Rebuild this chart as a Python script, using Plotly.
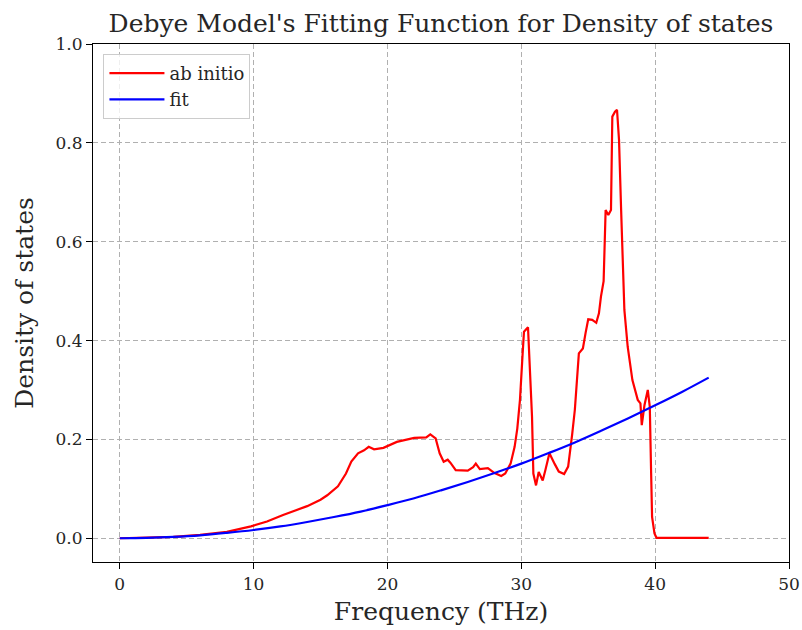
import plotly.graph_objects as go

# ab initio phonon density of states
freq_ab = [0, 2, 4, 6, 8, 9.8, 11, 12.2, 13, 14, 15, 15.5, 16.3, 16.9, 17.3, 17.8,
           18.25, 18.6, 19.0, 19.7, 20.7, 22.0, 22.9, 23.2, 23.6, 23.9, 24.2, 24.5,
           24.7, 25.1, 26.0, 26.4, 26.6, 26.9, 27.5, 28.0, 28.5, 28.8, 29.2, 29.5,
           29.7, 29.9, 30.1, 30.2, 30.5, 30.6, 30.8, 30.9, 31.1, 31.3, 31.6, 31.8,
           32.1, 32.5, 32.8, 33.2, 33.5, 33.8, 34.0, 34.3, 34.6, 34.8, 35.0, 35.3,
           35.6, 35.8, 35.95, 36.15, 36.3, 36.5, 36.7, 36.8, 37.0, 37.15, 37.3,
           37.45, 37.6, 37.7, 37.95, 38.3, 38.7, 38.9, 39.0, 39.2, 39.45, 39.6,
           39.7, 39.77, 39.95, 40.1, 41, 42, 43, 44]
dos_ab = [0.0, 0.001, 0.003, 0.007, 0.013, 0.024, 0.034, 0.047, 0.055, 0.065, 0.078,
          0.087, 0.105, 0.131, 0.155, 0.172, 0.178, 0.185, 0.18, 0.183, 0.195, 0.203,
          0.204, 0.21, 0.202, 0.172, 0.155, 0.159, 0.153, 0.138, 0.137, 0.144, 0.151,
          0.14, 0.142, 0.132, 0.126, 0.131, 0.151, 0.185, 0.222, 0.28, 0.374, 0.418,
          0.427, 0.375, 0.246, 0.131, 0.107, 0.134, 0.117, 0.138, 0.172, 0.15, 0.135,
          0.13, 0.145, 0.21, 0.26, 0.374, 0.384, 0.415, 0.443, 0.442, 0.436, 0.455,
          0.489, 0.52, 0.664, 0.654, 0.664, 0.853, 0.863, 0.867, 0.806, 0.671, 0.51,
          0.462, 0.387, 0.32, 0.28, 0.273, 0.229, 0.269, 0.3, 0.266, 0.131, 0.043,
          0.01, 0.001, 0.001, 0.001, 0.001, 0.001]

# Debye fit sampled on a regular grid
freq_fit = [0, 2, 4, 6, 8, 10, 12, 14, 16, 18, 20, 22, 24, 26, 28, 30, 32, 34, 36,
            38, 40, 42, 44]
dos_fit = [0.0, 0.0007, 0.0027, 0.006, 0.011, 0.0168, 0.024, 0.033, 0.043, 0.054,
           0.067, 0.081, 0.097, 0.114, 0.132, 0.151, 0.172, 0.194, 0.218, 0.243,
           0.269, 0.296, 0.325]

x_ticks = [0, 10, 20, 30, 40, 50]
y_ticks = [0.0, 0.2, 0.4, 0.6, 0.8, 1.0]

FONT = "DejaVu Serif"
TEXT = "#262626"

fig = go.Figure()
fig.add_trace(go.Scatter(x=freq_ab, y=dos_ab, mode="lines", name="ab initio",
                         line=dict(color="#ff0000", width=2.2)))
fig.add_trace(go.Scatter(x=freq_fit, y=dos_fit, mode="lines", name="fit",
                         line=dict(color="#0000ff", width=2.2, shape="spline")))

axis_common = dict(
    showline=True, linecolor="black", linewidth=1.2, mirror=True,
    ticks="outside", ticklen=6, tickwidth=1.2, tickcolor="black",
    showgrid=True, gridcolor="#b0b0b0", gridwidth=1, griddash="5px,3px",
    zeroline=False, automargin=False,
    tickfont=dict(family=FONT, size=17, color=TEXT),
)

fig.update_xaxes(range=[-2, 50], tickvals=x_ticks,
                 ticktext=[str(v) for v in x_ticks],
                 title=dict(text="Frequency (THz)", font=dict(family=FONT, size=25, color=TEXT),
                            standoff=9),
                 **axis_common)
fig.update_yaxes(range=[-0.048, 1.0], tickvals=y_ticks,
                 ticktext=[f"{v:.1f}" for v in y_ticks],
                 title=dict(text="Density of states", font=dict(family=FONT, size=25, color=TEXT),
                            standoff=14),
                 **axis_common)

fig.update_layout(
    width=802, height=630,
    margin=dict(l=93, r=13, t=44, b=68, autoexpand=False),
    paper_bgcolor="white", plot_bgcolor="white",
    title=dict(text="Debye Model's Fitting Function for Density of states",
               x=(93 + 789) / 2 / 802, xanchor="center", y=0.963, yanchor="middle",
               font=dict(family=FONT, size=25, color=TEXT)),
    legend=dict(x=0.015, y=0.981, xanchor="left", yanchor="top",
                bgcolor="rgba(255,255,255,0.8)", bordercolor="#cccccc", borderwidth=1,
                itemwidth=55, tracegroupgap=0,
                font=dict(family=FONT, size=18, color=TEXT)),
    showlegend=True,
)

fig.write_html("out.html")
